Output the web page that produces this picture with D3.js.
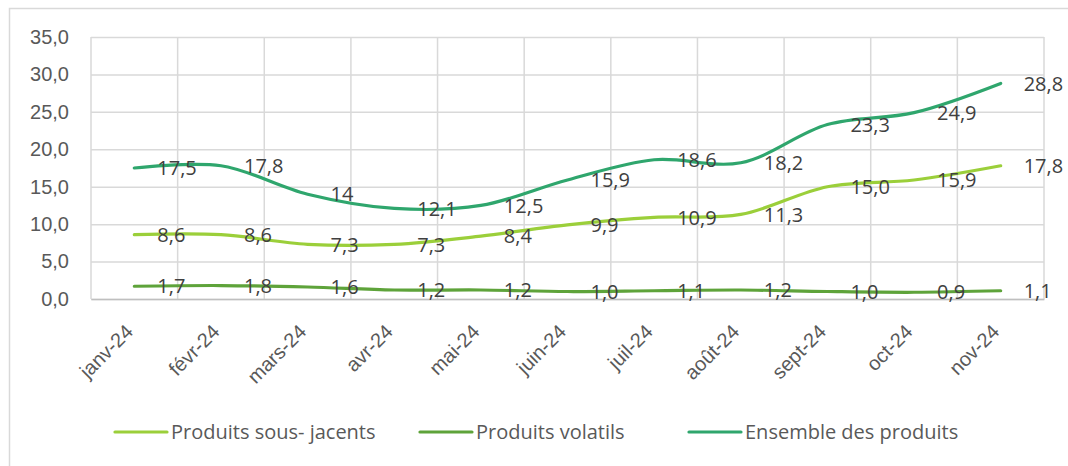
<!DOCTYPE html>
<html>
<head>
<meta charset="utf-8">
<script src="https://cdn.jsdelivr.net/npm/d3@7"></script>
<style>
  html, body { margin: 0; padding: 0; background: #fff; }
  svg { display: block; font-family: "Open Sans", "Noto Sans", sans-serif; }
</style>
</head>
<body>
<svg id="chart" width="1068" height="466"></svg>
<script>
const categories = ["janv-24","févr-24","mars-24","avr-24","mai-24","juin-24","juil-24","août-24","sept-24","oct-24","nov-24"];
const sousJacents = [8.6, 8.6, 7.3, 7.3, 8.4, 9.9, 10.9, 11.3, 15.0, 15.9, 17.8];
const volatils = [1.7, 1.8, 1.6, 1.2, 1.2, 1.0, 1.1, 1.2, 1.0, 0.9, 1.1];
const ensemble = [17.5, 17.8, 14, 12.1, 12.5, 15.9, 18.6, 18.2, 23.3, 24.9, 28.8];
const ensembleLabels = ["17,5","17,8","14","12,1","12,5","15,9","18,6","18,2","23,3","24,9","28,8"];
const yTicks = [0, 5, 10, 15, 20, 25, 30, 35];
const seriesNames = ["Produits sous- jacents", "Produits volatils", "Ensemble des produits"];
const seriesColors = ["#9BCF3A", "#5EA33A", "#2FA66D"];

const fmt = v => v.toFixed(1).replace(".", ",");

const series = [
  { name: seriesNames[0], values: sousJacents, color: seriesColors[0], labels: sousJacents.map(fmt) },
  { name: seriesNames[1], values: volatils, color: seriesColors[1], labels: volatils.map(fmt) },
  { name: seriesNames[2], values: ensemble, color: seriesColors[2], labels: ensembleLabels }
];

const svg = d3.select("#chart");
const plotL = 91, plotR = 1044, plotT = 37, plotB = 299;

// outer chart border
svg.append("rect").attr("x", 9.5).attr("y", 8.5).attr("width", 1100).attr("height", 600)
  .attr("fill", "#fff").attr("stroke", "#d9d9d9").attr("stroke-width", 1.5);

const x = d3.scaleBand().domain(categories).range([plotL, plotR]).paddingInner(0).paddingOuter(0);
const y = d3.scaleLinear().domain([0, 35]).range([plotB, plotT]);
const cx = c => x(c) + x.bandwidth() / 2;

// horizontal gridlines + y labels
const yAxis = d3.axisLeft(y).tickValues(yTicks).tickSize(-(plotR - plotL)).tickFormat(fmt).tickPadding(22);
const gy = svg.append("g").attr("transform", `translate(${plotL},0)`).call(yAxis);
gy.select(".domain").remove();
gy.selectAll(".tick line").attr("stroke", "#d9d9d9").attr("stroke-width", 1.5);
gy.selectAll(".tick text").attr("fill", "#595959").style("font-size", "20px");

// vertical gridlines at band boundaries
const bounds = categories.map(c => x(c)).concat([plotR]);
svg.append("g").selectAll("line").data(bounds).join("line")
  .attr("x1", d => d).attr("x2", d => d).attr("y1", plotT).attr("y2", plotB)
  .attr("stroke", "#d9d9d9").attr("stroke-width", 1.5);

// x axis
const xAxis = d3.axisBottom(x).tickSize(0).tickPadding(0);
const gx = svg.append("g").attr("transform", `translate(0,${plotB})`).call(xAxis);
gx.select(".domain").attr("stroke", "#bfbfbf").attr("stroke-width", 1.5);
gx.selectAll(".tick text")
  .attr("fill", "#595959").style("font-size", "20px")
  .attr("text-anchor", "end")
  .attr("x", 0).attr("y", 0)
  .attr("dy", "0.35em")
  .attr("transform", "translate(-5,29) rotate(-45)");

// lines
const line = d3.line().x((d, i) => cx(categories[i])).y(d => y(d)).curve(d3.curveCatmullRom.alpha(0.5));
series.forEach(s => {
  svg.append("path").datum(s.values).attr("d", line)
    .attr("fill", "none").attr("stroke", s.color).attr("stroke-width", 3.2)
    .attr("stroke-linecap", "round").attr("stroke-linejoin", "round");
});

// data labels
series.forEach(s => {
  svg.append("g").selectAll("text").data(s.values).join("text")
    .attr("x", (d, i) => cx(categories[i]) + 23)
    .attr("y", d => y(d))
    .attr("dy", "0.36em")
    .attr("fill", "#404040").style("font-size", "20px")
    .text((d, i) => s.labels[i]);
});

// legend
const legendX = [115, 420, 689];
const legendY = 432;
series.forEach((s, i) => {
  const g = svg.append("g").attr("transform", `translate(${legendX[i]},${legendY})`);
  g.append("line").attr("x1", 0).attr("x2", 52).attr("y1", 0).attr("y2", 0)
    .attr("stroke", s.color).attr("stroke-width", 3.2).attr("stroke-linecap", "round");
  g.append("text").attr("x", 56).attr("y", 0).attr("dy", "0.36em")
    .attr("fill", "#595959").style("font-size", "20px").text(s.name);
});
</script>
</body>
</html>
